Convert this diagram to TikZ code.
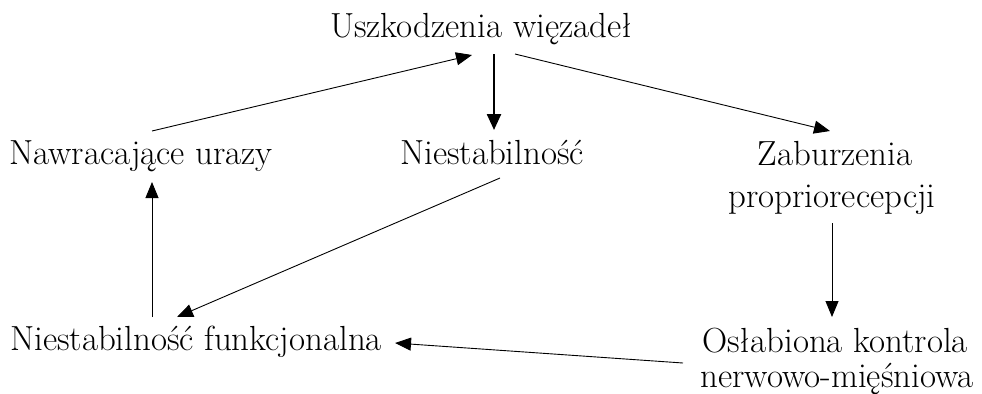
\documentclass[tikz,border=0pt]{standalone}
\usepackage{fontspec}
\usetikzlibrary{arrows.meta,calc}
\begin{document}
\begin{tikzpicture}[x=1bp,y=-1bp,
  lbl/.style={inner sep=0pt,anchor=base,align=center,font=\fontsize{35}{42}\selectfont},
  arr/.style={line width=0.9bp,-{Triangle[length=16bp,width=13bp]}},
  thickarr/.style={line width=2.4bp,-{Triangle[length=16bp,width=14bp]}}]
\useasboundingbox (0,0) rectangle (982,393);
\node[lbl] (uszk) at (481,37) {Uszkodzenia więzadeł};
\node[lbl] (nawr) at (141,164) {Nawracające urazy};
\node[lbl] (nies) at (492,164) {Niestabilność};
\node[lbl] (zab1) at (835,165) {Zaburzenia};
\node[lbl] (zab2) at (832,207) {propriorecepcji};
\node[lbl] (nfunk) at (196,350) {Niestabilność funkcjonalna};
\node[lbl] (osl1) at (835,352) {Osłabiona kontrola};
\node[lbl] (osl2) at (837,387) {nerwowo-mięśniowa};
\draw[arr] ($(nawr.base)+(11,-33)$) -- ($(uszk.base)+(-9,18)$);
\draw[thickarr] ($(uszk.base)+(13,17)$) -- ($(nies.base)+(2,-34)$);
\draw[arr] ($(uszk.base)+(34,17)$) -- ($(zab1.base)+(-5,-34)$);
\draw[arr] ($(zab2.base)+(0,16)$) -- ($(osl1.base)+(-3,-35)$);
\draw[arr] ($(nies.base)+(8,14)$) -- ($(nfunk.base)+(-19,-33)$);
\draw[arr] ($(nfunk.base)+(-44,-33)$) -- ($(nawr.base)+(11,18)$);
\draw[arr] ($(osl1.base)+(-152,11)$) -- ($(nfunk.base)+(199,-7)$);
\end{tikzpicture}
\end{document}
